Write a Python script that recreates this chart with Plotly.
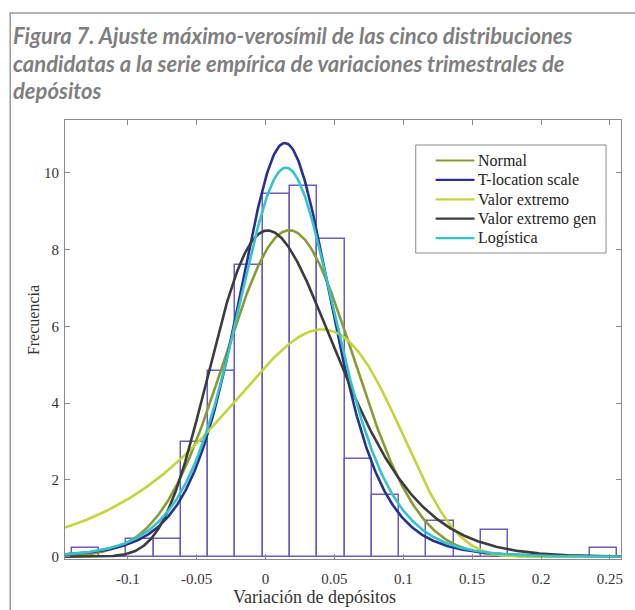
import math
import numpy as np
import plotly.graph_objects as go

# Histogram of quarterly deposit variations (frequency density per bin)
bin_edges = [-0.1407, -0.1209, -0.1011, -0.0813, -0.0615, -0.0417, -0.0219,
             -0.0021, 0.0177, 0.0375, 0.0573, 0.0771, 0.0969, 0.1167, 0.1365,
             0.1563, 0.1761, 0.1959, 0.2157, 0.2355, 0.2553]
bin_heights = [0.23, 0.0, 0.47, 0.47, 2.98, 4.83, 7.60, 9.45, 9.66, 8.29,
               2.54, 1.62, 0.0, 0.92, 0.0, 0.69, 0.0, 0.0, 0.0, 0.23]

# Fitted parameters of the five candidate distributions
normal_mu, normal_sigma = 0.0172, 0.0469
tls_mu, tls_sigma, tls_nu = 0.0140, 0.0355, 6.0
ev_mu, ev_sigma = 0.0411, 0.0621          # extreme value (minimum, type I)
gev_k, gev_sigma, gev_mu = -0.10, 0.0435, -0.0031
logis_mu, logis_s = 0.0148, 0.02466

series_names = ["Normal", "T-location scale", "Valor extremo",
                "Valor extremo gen", "Logística"]
series_colors = ["#8c9a34", "#27318f", "#c6d43c", "#3c3c3c", "#33c3cb"]

x_ticks = [-0.1, -0.05, 0, 0.05, 0.1, 0.15, 0.2, 0.25]
x_ticktext = ["-0.1", "-0.05", "0", "0.05", "0.1", "0.15", "0.2", "0.25"]
y_ticks = [0, 2, 4, 6, 8, 10]
x_range = [-0.1456, 0.258]
y_range = [-0.06, 11.38]


def pdf_normal(x):
    z = (x - normal_mu) / normal_sigma
    return np.exp(-0.5 * z * z) / (normal_sigma * math.sqrt(2 * math.pi))


def pdf_tls(x):
    t = (x - tls_mu) / tls_sigma
    c = math.gamma((tls_nu + 1) / 2) / (math.gamma(tls_nu / 2) * math.sqrt(tls_nu * math.pi) * tls_sigma)
    return c * (1 + t * t / tls_nu) ** (-(tls_nu + 1) / 2)


def pdf_ev(x):
    z = (x - ev_mu) / ev_sigma
    return np.exp(z) * np.exp(-np.exp(z)) / ev_sigma


def pdf_gev(x):
    z = (x - gev_mu) / gev_sigma
    base = 1 + gev_k * z
    out = np.zeros_like(x)
    ok = base > 0
    t = base[ok] ** (-1 / gev_k)
    out[ok] = t ** (gev_k + 1) * np.exp(-t) / gev_sigma
    return out


def pdf_logistic(x):
    e = np.exp(-(x - logis_mu) / logis_s)
    return e / (logis_s * (1 + e) ** 2)


xs = np.linspace(x_range[0], x_range[1], 500)
curves = [pdf_normal(xs), pdf_tls(xs), pdf_ev(xs), pdf_gev(xs), pdf_logistic(xs)]

# Plot area in pixels
W, H = 635, 610
L, R, T, B = 65, 12, 120, 51
PW, PH = W - L - R, H - T - B


def xp(px):
    return (px - L) / PW


def yp(py):
    return (H - B - py) / PH


fig = go.Figure()

centers = [(bin_edges[i] + bin_edges[i + 1]) / 2 for i in range(len(bin_heights))]
widths = [bin_edges[i + 1] - bin_edges[i] for i in range(len(bin_heights))]
fig.add_trace(go.Bar(
    x=centers, y=bin_heights, width=widths,
    marker=dict(color="rgba(255,255,255,0)", line=dict(color="#6c5cc0", width=1.5)),
    showlegend=False, hoverinfo="skip",
))

for name, color, ys in zip(series_names, series_colors, curves):
    fig.add_trace(go.Scatter(
        x=xs, y=ys, mode="lines", name=name,
        line=dict(color=color, width=2.6), showlegend=False,
    ))

serif = "Liberation Serif, Times New Roman, serif"
axis_col = "#8a8a8a"

fig.update_xaxes(
    range=x_range, tickvals=x_ticks, ticktext=x_ticktext,
    showline=True, linecolor=axis_col, linewidth=1, mirror="ticks",
    ticks="inside", ticklen=5, tickcolor=axis_col,
    showgrid=False, zeroline=False,
    tickfont=dict(family=serif, size=15, color="#333333"),
    ticklabelstandoff=6,
)
fig.update_yaxes(
    range=y_range, tickvals=y_ticks,
    showline=True, linecolor=axis_col, linewidth=1, mirror="ticks",
    ticks="inside", ticklen=5, tickcolor=axis_col,
    showgrid=False, zeroline=False,
    tickfont=dict(family=serif, size=15, color="#333333"),
    ticklabelstandoff=2,
)

title_font = dict(family="Lato, sans-serif", size=22,
                  color="#7f7f7f", weight="bold", style="italic")
title_lines = [
    "Figura 7. Ajuste máximo-verosímil de las cinco distribuciones",
    "candidatas a la serie empírica de variaciones trimestrales de",
    "depósitos",
]
annotations = []
shapes = []
for i, line in enumerate(title_lines):
    annotations.append(dict(
        text=line, x=xp(11), y=yp(35 + 28 * i), xref="paper", yref="paper",
        xanchor="left", yanchor="middle", showarrow=False, font=title_font,
    ))
annotations.append(dict(
    text="Variación de depósitos", x=xp(315), y=yp(597), xref="paper", yref="paper",
    xanchor="center", yanchor="middle", showarrow=False,
    font=dict(family=serif, size=18, color="#333333"),
))
annotations.append(dict(
    text="Frecuencia", x=xp(33), y=yp(320), xref="paper", yref="paper",
    xanchor="center", yanchor="middle", showarrow=False, textangle=-90,
    font=dict(family=serif, size=16, color="#333333"),
))

# Legend box with line samples, one row per fitted distribution
leg_x0, leg_x1, leg_y0, leg_y1 = 417, 608, 145, 253
shapes.append(dict(
    type="rect", xref="paper", yref="paper",
    x0=xp(leg_x0), x1=xp(leg_x1), y0=yp(leg_y1), y1=yp(leg_y0),
    line=dict(color="#8a8a8a", width=1), fillcolor="white", layer="above",
))
for i, (name, color) in enumerate(zip(series_names, series_colors)):
    ry = 160.5 + 19.4 * i
    shapes.append(dict(
        type="line", xref="paper", yref="paper",
        x0=xp(437), x1=xp(476), y0=yp(ry), y1=yp(ry),
        line=dict(color=color, width=2.2), layer="above",
    ))
    annotations.append(dict(
        text=name, x=xp(477), y=yp(ry), xref="paper", yref="paper",
        xanchor="left", yanchor="middle", showarrow=False,
        font=dict(family=serif, size=16, color="#222222"),
    ))

# Gray frame around the figure
shapes.append(dict(
    type="path", xref="paper", yref="paper",
    path=f"M {xp(10)},{yp(620)} L {xp(10)},{yp(13)} L {xp(640)},{yp(13)}",
    line=dict(color="#9a9a9a", width=1.5),
))

fig.update_layout(
    width=W, height=H,
    margin=dict(l=L, r=R, t=T, b=B),
    paper_bgcolor="white", plot_bgcolor="white",
    font=dict(family=serif),
    bargap=0,
    annotations=annotations,
    shapes=shapes,
    showlegend=False,
)

fig.write_html("out.html")
